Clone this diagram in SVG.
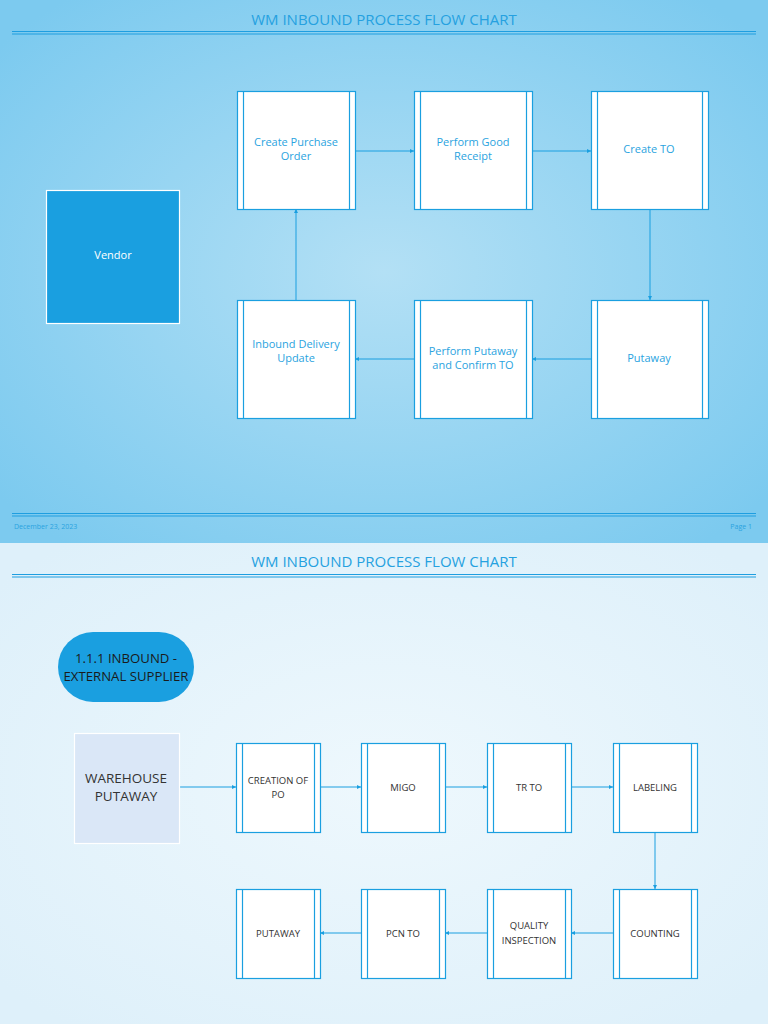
<svg xmlns="http://www.w3.org/2000/svg" width="768" height="1024" viewBox="0 0 768 1024">
<defs>
<radialGradient id="bg1" cx="50%" cy="50%" r="65%">
<stop offset="0" stop-color="#b3e0f5"/>
<stop offset="1" stop-color="#7ccaef"/>
</radialGradient>
<radialGradient id="bg2" cx="50%" cy="50%" r="65%">
<stop offset="0" stop-color="#eef8fd"/>
<stop offset="1" stop-color="#def0fa"/>
</radialGradient>
<marker id="arr" viewBox="0 0 6 6" refX="6" refY="3" markerWidth="4" markerHeight="4" orient="auto" markerUnits="userSpaceOnUse">
<path d="M0,0 L6,3 L0,6 Z" fill="#1a9fe0"/>
</marker>
<style>
.title{font-family:"Open Sans","Noto Sans",sans-serif;font-size:15px;fill:#25a1e0;text-anchor:middle}
.rule{stroke:#1f9ee0;stroke-width:1.2}
.box{fill:#ffffff;stroke:#1a9fe0;stroke-width:1.2}
.bar{stroke:#1a9fe0;stroke-width:1.2}
.t1{font-family:"Open Sans","Noto Sans",sans-serif;font-size:11px;fill:#2aa3e0;text-anchor:middle}
.t2{font-family:"Open Sans","Noto Sans",sans-serif;font-size:9.5px;fill:#333333;text-anchor:middle}
.conn{stroke:#1a9fe0;stroke-width:1;fill:none;marker-end:url(#arr)}
.foot{font-family:"Open Sans","Noto Sans",sans-serif;font-size:7px;fill:#2aa3e0}
</style>
</defs>
<rect x="0" y="0" width="768" height="543" fill="url(#bg1)"/>
<rect x="0" y="543" width="768" height="481" fill="url(#bg2)"/>

<!-- page 1 header/footer -->
<text class="title" x="384" y="25">WM INBOUND PROCESS FLOW CHART</text>
<line class="rule" x1="12" y1="31.5" x2="756" y2="31.5"/>
<line class="rule" x1="12" y1="34" x2="756" y2="34"/>
<line class="rule" x1="12" y1="513.5" x2="756" y2="513.5"/>
<line class="rule" x1="12" y1="516" x2="756" y2="516"/>
<text class="foot" x="14" y="529">December 23, 2023</text>
<text class="foot" x="752" y="529" text-anchor="end">Page 1</text>

<!-- page 2 header -->
<text class="title" x="384" y="567">WM INBOUND PROCESS FLOW CHART</text>
<line class="rule" x1="12" y1="574.5" x2="756" y2="574.5"/>
<line class="rule" x1="12" y1="577" x2="756" y2="577"/>

<g id="connectors">
<line class="conn" x1="355" y1="151" x2="414" y2="151"/>
<line class="conn" x1="532" y1="151" x2="591" y2="151"/>
<line class="conn" x1="650" y1="209" x2="650" y2="300"/>
<line class="conn" x1="591" y1="359" x2="532" y2="359"/>
<line class="conn" x1="414" y1="359" x2="355" y2="359"/>
<line class="conn" x1="296" y1="300" x2="296" y2="209"/>
<line class="conn" x1="179" y1="787" x2="236" y2="787"/>
<line class="conn" x1="320" y1="787" x2="361" y2="787"/>
<line class="conn" x1="445" y1="787" x2="487" y2="787"/>
<line class="conn" x1="571" y1="787" x2="613" y2="787"/>
<line class="conn" x1="655" y1="832" x2="655" y2="889"/>
<line class="conn" x1="613" y1="933" x2="571" y2="933"/>
<line class="conn" x1="487" y1="933" x2="445" y2="933"/>
<line class="conn" x1="361" y1="933" x2="320" y2="933"/>
</g>

<g id="vendor">
<rect x="46.5" y="190.5" width="133" height="133" fill="#1a9fe0" stroke="#ffffff" stroke-width="1.2"/>
<text x="113" y="259" font-family="'Open Sans','Noto Sans',sans-serif" font-size="11" fill="#ffffff" text-anchor="middle">Vendor</text>
</g>

<g id="create-po">
<rect class="box" x="237.5" y="91.5" width="118" height="118"/>
<line class="bar" x1="243.5" y1="91.5" x2="243.5" y2="209.5"/>
<line class="bar" x1="349.5" y1="91.5" x2="349.5" y2="209.5"/>
<text class="t1" x="296" y="146">Create Purchase</text>
<text class="t1" x="296" y="160">Order</text>
</g>
<g id="good-receipt">
<rect class="box" x="414.5" y="91.5" width="118" height="118"/>
<line class="bar" x1="420.5" y1="91.5" x2="420.5" y2="209.5"/>
<line class="bar" x1="526.5" y1="91.5" x2="526.5" y2="209.5"/>
<text class="t1" x="473" y="146">Perform Good</text>
<text class="t1" x="473" y="160">Receipt</text>
</g>
<g id="create-to">
<rect class="box" x="591.5" y="91.5" width="117" height="118"/>
<line class="bar" x1="597.5" y1="91.5" x2="597.5" y2="209.5"/>
<line class="bar" x1="702.5" y1="91.5" x2="702.5" y2="209.5"/>
<text class="t1" x="649" y="153">Create TO</text>
</g>
<g id="putaway1">
<rect class="box" x="591.5" y="300.5" width="117" height="118"/>
<line class="bar" x1="597.5" y1="300.5" x2="597.5" y2="418.5"/>
<line class="bar" x1="702.5" y1="300.5" x2="702.5" y2="418.5"/>
<text class="t1" x="649" y="362">Putaway</text>
</g>
<g id="perform-putaway">
<rect class="box" x="414.5" y="300.5" width="118" height="118"/>
<line class="bar" x1="420.5" y1="300.5" x2="420.5" y2="418.5"/>
<line class="bar" x1="526.5" y1="300.5" x2="526.5" y2="418.5"/>
<text class="t1" x="473" y="355">Perform Putaway</text>
<text class="t1" x="473" y="369">and Confirm TO</text>
</g>
<g id="inbound-delivery">
<rect class="box" x="237.5" y="300.5" width="118" height="118"/>
<line class="bar" x1="243.5" y1="300.5" x2="243.5" y2="418.5"/>
<line class="bar" x1="349.5" y1="300.5" x2="349.5" y2="418.5"/>
<text class="t1" x="296" y="348">Inbound Delivery</text>
<text class="t1" x="296" y="362">Update</text>
</g>

<g id="inbound-pill">
<rect x="58" y="632" width="136" height="70" rx="35" fill="#1a9fe0"/>
<text x="126" y="663" font-family="'Open Sans','Noto Sans',sans-serif" font-size="13.2" fill="#1a1a1a" text-anchor="middle">1.1.1 INBOUND -</text>
<text x="126" y="681" font-family="'Open Sans','Noto Sans',sans-serif" font-size="13.2" fill="#1a1a1a" text-anchor="middle">EXTERNAL SUPPLIER</text>
</g>
<g id="warehouse-putaway">
<rect x="74.5" y="733.5" width="105" height="110" fill="#dae7f7" stroke="#ffffff" stroke-width="1.2"/>
<text x="126" y="783" font-family="'Open Sans','Noto Sans',sans-serif" font-size="13.5" fill="#333333" text-anchor="middle">WAREHOUSE</text>
<text x="126" y="801" font-family="'Open Sans','Noto Sans',sans-serif" font-size="13.5" fill="#333333" text-anchor="middle">PUTAWAY</text>
</g>

<g id="creation-po">
<rect class="box" x="236.5" y="743.5" width="84" height="89"/>
<line class="bar" x1="242.5" y1="743.5" x2="242.5" y2="832.5"/>
<line class="bar" x1="314.5" y1="743.5" x2="314.5" y2="832.5"/>
<text class="t2" x="278" y="784">CREATION OF</text>
<text class="t2" x="278" y="798">PO</text>
</g>
<g id="migo">
<rect class="box" x="361.5" y="743.5" width="84" height="89"/>
<line class="bar" x1="367.5" y1="743.5" x2="367.5" y2="832.5"/>
<line class="bar" x1="439.5" y1="743.5" x2="439.5" y2="832.5"/>
<text class="t2" x="403" y="791">MIGO</text>
</g>
<g id="tr-to">
<rect class="box" x="487.5" y="743.5" width="84" height="89"/>
<line class="bar" x1="493.5" y1="743.5" x2="493.5" y2="832.5"/>
<line class="bar" x1="565.5" y1="743.5" x2="565.5" y2="832.5"/>
<text class="t2" x="529" y="791">TR TO</text>
</g>
<g id="labeling">
<rect class="box" x="613.5" y="743.5" width="84" height="89"/>
<line class="bar" x1="619.5" y1="743.5" x2="619.5" y2="832.5"/>
<line class="bar" x1="691.5" y1="743.5" x2="691.5" y2="832.5"/>
<text class="t2" x="655" y="791">LABELING</text>
</g>
<g id="counting">
<rect class="box" x="613.5" y="889.5" width="84" height="89"/>
<line class="bar" x1="619.5" y1="889.5" x2="619.5" y2="978.5"/>
<line class="bar" x1="691.5" y1="889.5" x2="691.5" y2="978.5"/>
<text class="t2" x="655" y="937">COUNTING</text>
</g>
<g id="quality-inspection">
<rect class="box" x="487.5" y="889.5" width="84" height="89"/>
<line class="bar" x1="493.5" y1="889.5" x2="493.5" y2="978.5"/>
<line class="bar" x1="565.5" y1="889.5" x2="565.5" y2="978.5"/>
<text class="t2" x="529" y="929">QUALITY</text>
<text class="t2" x="529" y="944">INSPECTION</text>
</g>
<g id="pcn-to">
<rect class="box" x="361.5" y="889.5" width="84" height="89"/>
<line class="bar" x1="367.5" y1="889.5" x2="367.5" y2="978.5"/>
<line class="bar" x1="439.5" y1="889.5" x2="439.5" y2="978.5"/>
<text class="t2" x="403" y="937">PCN TO</text>
</g>
<g id="putaway2">
<rect class="box" x="236.5" y="889.5" width="84" height="89"/>
<line class="bar" x1="242.5" y1="889.5" x2="242.5" y2="978.5"/>
<line class="bar" x1="314.5" y1="889.5" x2="314.5" y2="978.5"/>
<text class="t2" x="278" y="937">PUTAWAY</text>
</g>
</svg>
